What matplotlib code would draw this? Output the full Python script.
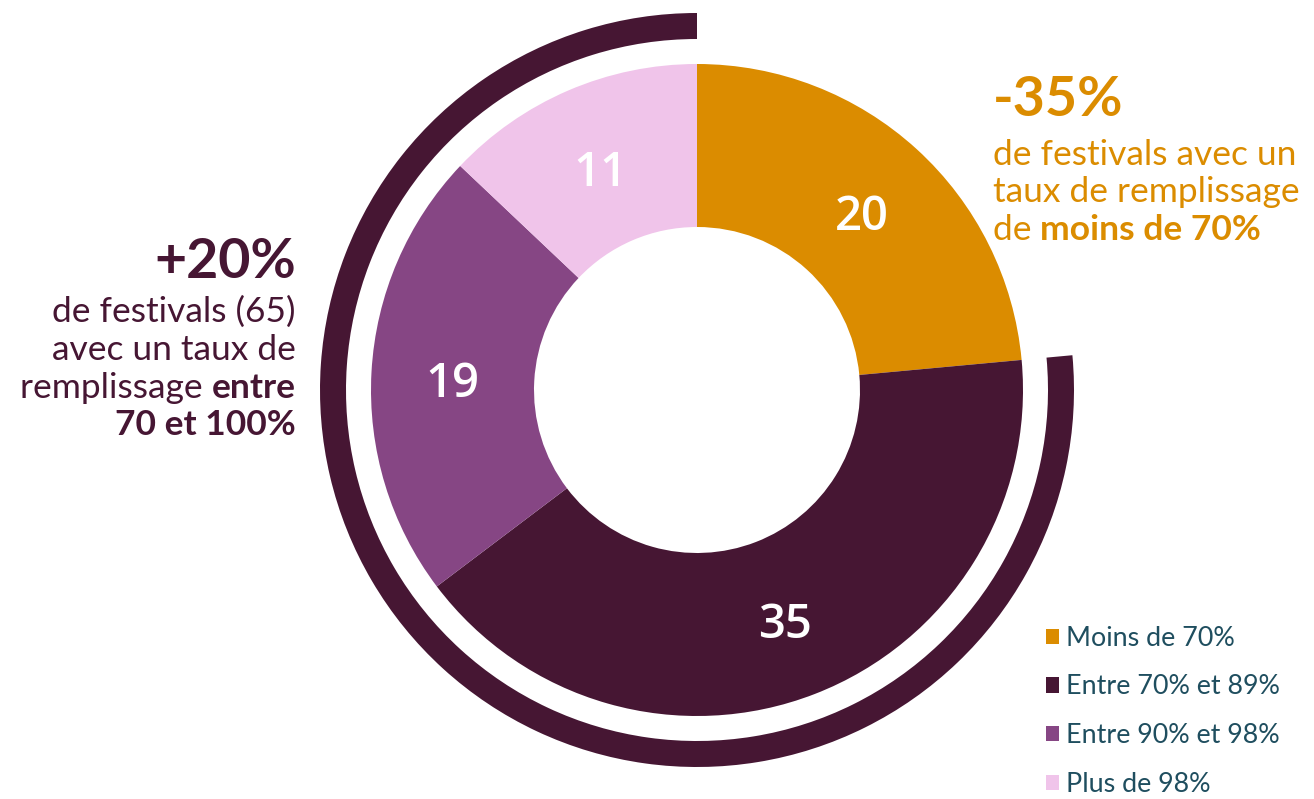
import numpy as np
import matplotlib.pyplot as plt
from matplotlib.patches import Patch

# data
categories = ["Moins de 70%", "Entre 70% et 89%", "Entre 90% et 98%", "Plus de 98%"]
values = [20, 35, 19, 11]
colors = ["#DB8C00", "#461633", "#864684", "#F0C4EA"]
arc_values = [20, 65]  # part hors arc / part 70-100%

W, H = 1314, 799
fig = plt.figure(figsize=(W / 100, H / 100), dpi=100)
ax = fig.add_axes([0, 0, 1, 1])

cx, cy = 697, H - 390
r_out = 326

wedges, _ = ax.pie(values, colors=colors, startangle=90, counterclock=False,
                   center=(cx, cy), radius=r_out, frame=True,
                   wedgeprops=dict(width=r_out - 163, linewidth=0))
# arc exterieur
ax.pie(arc_values, colors=["none", colors[1]], startangle=90, counterclock=False,
       center=(cx, cy), radius=377, frame=True,
       wedgeprops=dict(width=26, linewidth=0))
ax.set_xlim(0, W)
ax.set_ylim(0, H)
ax.set_aspect("equal")
ax.axis("off")

# valeurs dans les segments
lab_r = (r_out + 163) / 2
cum = np.cumsum([0] + values)
total = sum(values)
for i, v in enumerate(values):
    mid = 90 - (cum[i] + v / 2) / total * 360
    x = cx + lab_r * np.cos(np.radians(mid))
    y = cy + lab_r * np.sin(np.radians(mid)) - 8
    ax.text(x, y, str(v), color="white", fontsize=34, fontfamily="Open Sans",
            fontweight="semibold", ha="center", va="center")

fig.canvas.draw()
rend = fig.canvas.get_renderer()


def width_of(t):
    bb = t.get_window_extent(renderer=rend)
    return bb.width


fam = "Lato"
orange = colors[0]
dark = colors[1]
fs = 25.5

# annotation droite
ax.text(993, H - 100, "-35%", color=orange, fontsize=40, fontfamily=fam,
        fontweight="bold", ha="left", va="center")
ax.text(993, H - 155, "de festivals avec un", color=orange, fontsize=fs,
        fontfamily=fam, ha="left", va="center")
ax.text(993, H - 192, "taux de remplissage", color=orange, fontsize=fs,
        fontfamily=fam, ha="left", va="center")
t = ax.text(993, H - 230, "de ", color=orange, fontsize=fs,
            fontfamily=fam, ha="left", va="center")
ax.text(993 + width_of(t), H - 230, "moins de 70%", color=orange, fontsize=fs,
        fontfamily=fam, fontweight="bold", ha="left", va="center")

# annotation gauche
xr = 296
ax.text(xr, H - 262, "+20%", color=dark, fontsize=40, fontfamily=fam,
        fontweight="bold", ha="right", va="center")
ax.text(xr, H - 312, "de festivals (65)", color=dark, fontsize=fs,
        fontfamily=fam, ha="right", va="center")
ax.text(xr, H - 350, "avec un taux de", color=dark, fontsize=fs,
        fontfamily=fam, ha="right", va="center")
t = ax.text(xr, H - 388, "entre", color=dark, fontsize=fs,
            fontfamily=fam, fontweight="bold", ha="right", va="center")
ax.text(xr - width_of(t), H - 388, "remplissage ", color=dark, fontsize=fs,
        fontfamily=fam, ha="right", va="center")
ax.text(xr, H - 425, "70 et 100%", color=dark, fontsize=fs,
        fontfamily=fam, fontweight="bold", ha="right", va="center")

# legende
handles = [Patch(facecolor=c, edgecolor="none") for c in colors]
leg = ax.legend(handles, categories, loc="upper left",
                bbox_to_anchor=(1035 / W, 1 - 615 / H), frameon=False,
                borderaxespad=0, handlelength=0.5, handleheight=0.5,
                handletextpad=0.25, labelspacing=0.88,
                prop=dict(family=fam, size=19.4))
for txt in leg.get_texts():
    txt.set_color("#1F4E5F")

fig.savefig("out.png", dpi=100)
